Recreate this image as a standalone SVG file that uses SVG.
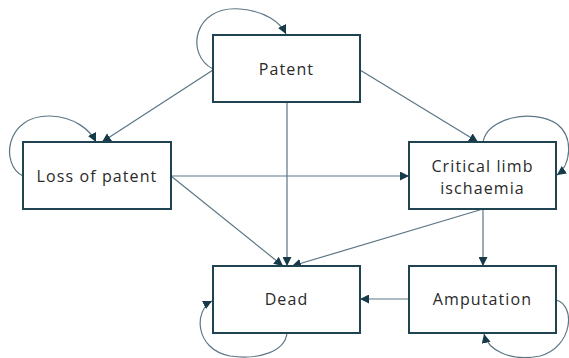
<svg xmlns="http://www.w3.org/2000/svg" width="569" height="358" viewBox="0 0 569 358">
<style>
.box{fill:#fff;stroke:#1f4350;stroke-width:2}
.lbl{font-family:"Open Sans","Noto Sans",sans-serif;font-size:16px;fill:#2a2a2a;text-anchor:middle;letter-spacing:1.1px}
.e{fill:none;stroke:#5b7684;stroke-width:1.2;marker-end:url(#ah)}
</style>
<defs>
<marker id="ah" viewBox="0 0 10 10" refX="10" refY="5" markerWidth="9" markerHeight="9" markerUnits="userSpaceOnUse" orient="auto">
<path d="M0,0 L10,5 L0,10 z" fill="#163a47"/>
</marker>
</defs>
<rect width="569" height="358" fill="#fff"/>
<g id="connectors">
<path class="e" d="M213,69 C185,55 193,5 240,9 C265,11 280,22 286,34"/>
<path class="e" d="M213,70 L102,142"/>
<path class="e" d="M23,176 C0,165 5,115 50,116 C75,117 90,130 96,142"/>
<path class="e" d="M287,102 L287,266"/>
<path class="e" d="M360,70 L478,142"/>
<path class="e" d="M483,142 C487,118 532,108 557,124 C574,137 571,165 557,175"/>
<path class="e" d="M171,176 L409,176"/>
<path class="e" d="M171,176 L283,266"/>
<path class="e" d="M483,209 L292,266"/>
<path class="e" d="M483,209 L483,266"/>
<path class="e" d="M409,299 L360,299"/>
<path class="e" d="M287,333 C285,352 258,360 230,356 C194,349 194,310 212,301"/>
<path class="e" d="M556,300 C576,305 573,347 540,356 C510,362 488,350 484,334"/>
</g>
<g id="patent"><rect class="box" x="213" y="35" width="147" height="67"/><text class="lbl" x="286.5" y="75">Patent</text></g>
<g id="loss"><rect class="box" x="23" y="142" width="148" height="67"/><text class="lbl" x="97" y="182">Loss of patent</text></g>
<g id="cli"><rect class="box" x="409" y="142" width="147" height="67"/><text class="lbl" x="482.5" y="172">Critical limb</text><text class="lbl" x="482.5" y="194">ischaemia</text></g>
<g id="dead"><rect class="box" x="213" y="266" width="147" height="67"/><text class="lbl" x="286.5" y="305">Dead</text></g>
<g id="amputation"><rect class="box" x="409" y="266" width="147" height="67"/><text class="lbl" x="482.5" y="305">Amputation</text></g>
</svg>
